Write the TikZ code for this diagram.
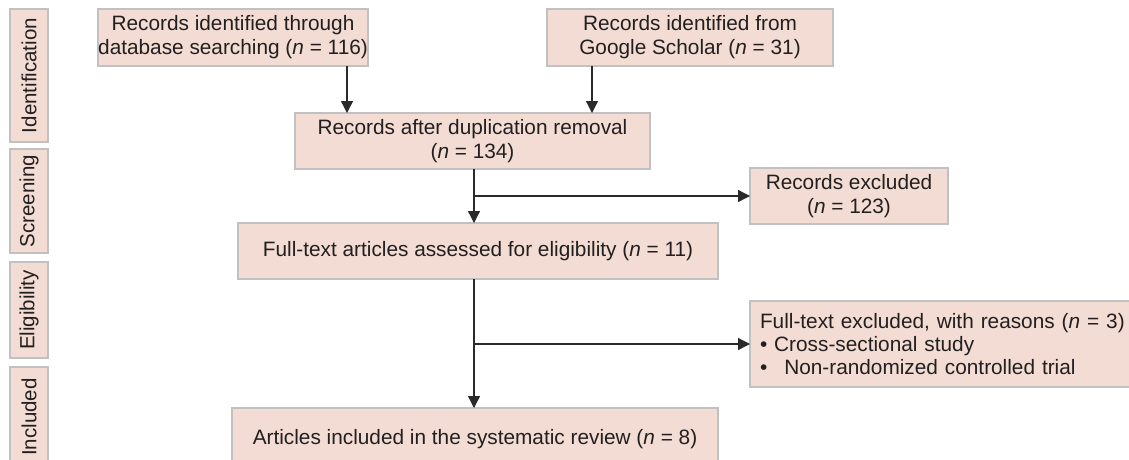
\documentclass[tikz,border=0pt]{standalone}
\usepackage{fontspec}
\setmainfont{Liberation Sans}
\usetikzlibrary{arrows.meta,calc}
\definecolor{boxfill}{HTML}{F2DCD3}
\definecolor{boxline}{HTML}{C2C0C0}
\definecolor{txt}{HTML}{231F20}
\definecolor{arr}{HTML}{2B2A2A}
\begin{document}
\begin{tikzpicture}[x=1pt,y=-1pt,
  box/.style={draw=boxline, line width=1.4pt, fill=boxfill, text=txt, align=center,
    inner sep=0pt, outer sep=0pt, anchor=north west,
    font=\fontsize{20.8}{24}\selectfont},
  side/.style={box, rotate=90, anchor=north east, font=\fontsize{20.5}{24}\selectfont},
  conn/.style={draw=arr, line width=1.3pt},
  arrow/.style={conn, -{Triangle[length=12pt,width=12pt]}}]
\clip (0,0) rectangle (1129,459);
\fill[white] (0,0) rectangle (1129,459);
% side labels
\node[side, minimum width=133, minimum height=38] (sid) at (10,9) {Identification};
\node[side, minimum width=104, minimum height=38] (ssc) at (10,149) {Screening};
\node[side, minimum width=96, minimum height=38] (sel) at (10,262) {Eligibility};
\node[side, minimum width=100, minimum height=38] (sin) at (10,367) {Included};
% boxes
\node[box, minimum width=270, minimum height=57] (db) at (98,9) {Records identified through\\database searching (\textit{n} = 116)};
\node[box, minimum width=286, minimum height=57] (gs) at (547,9) {Records identified from\\Google Scholar (\textit{n} = 31)};
\node[box, minimum width=355, minimum height=56] (dup) at (295,113) {Records after duplication removal\\(\textit{n} = 134)};
\node[box, minimum width=198, minimum height=56] (excl) at (750,168) {Records excluded\\(\textit{n} = 123)};
\node[box, minimum width=480, minimum height=56] (full) at (238,223) {Full-text articles assessed for eligibility (\textit{n} = 11)};
\node[box, minimum width=384, minimum height=86, align=left, text width=420, inner xsep=10pt,
  font=\fontsize{20.8}{23}\selectfont] (ftex) at (750,301) {Full-text excluded, with reasons (\textit{n} = 3)\\\textbullet\ Cross-sectional study\\\textbullet\hspace{17pt}Non-randomized controlled trial};
\node[box, minimum width=486, minimum height=62] (incl) at (232,408) {Articles included in the systematic review (\textit{n} = 8)};
% connectors
\draw[arrow] ([xshift=-21pt]db.south east) -- ([xshift=-21pt]db.south east |- dup.north);
\draw[arrow] ([xshift=45pt]gs.south west) -- ([xshift=45pt]gs.south west |- dup.north);
\draw[arrow] ([xshift=1.5pt]dup.south) -- ([xshift=1.5pt]dup.south |- full.north);
\coordinate (b1) at ([xshift=1.5pt]dup.south |- excl.west);
\draw[arrow] (b1) -- (excl.west);
\draw[arrow] ([xshift=-4pt]full.south) -- ([xshift=-4pt]full.south |- incl.north);
\coordinate (b2) at ([xshift=-4pt]full.south |- ftex.west);
\draw[arrow] (b2) -- (ftex.west);
\end{tikzpicture}
\end{document}
